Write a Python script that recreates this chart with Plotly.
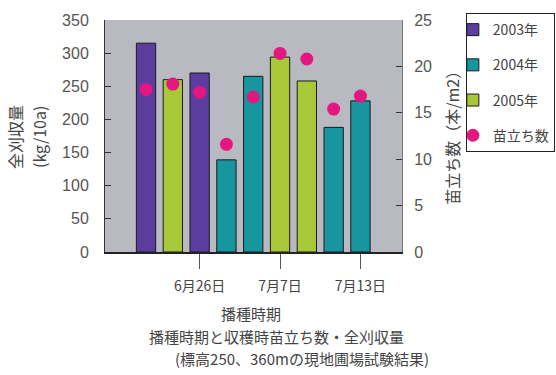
import plotly.graph_objects as go

# ---- data ----
slot_pos = [1, 2, 3, 4, 5, 6, 7, 8, 9]
tick_pos = [3, 6, 9]
tick_labels = ["6月26日", "7月7日", "7月13日"]

x_2003 = [1, 3]
y_2003 = [315, 270]
x_2004 = [4, 5, 8, 9]
y_2004 = [139, 265, 188, 228]
x_2005 = [2, 6, 7]
y_2005 = [260, 294, 258]
stand_counts = [17.5, 18.1, 17.2, 11.6, 16.7, 21.4, 20.8, 15.4, 16.8]

C03 = "#5a3d9e"
C04 = "#17969f"
C05 = "#a8c83a"
CDOT = "#e4167f"
FONT = "Noto Sans CJK JP"
TXT = "#444444"

fig = go.Figure()
bar_line = dict(color="#1a1a1a", width=1)
fig.add_trace(go.Bar(x=x_2003, y=y_2003, name="2003年", marker=dict(color=C03, line=bar_line),
                     width=0.72, legendgroup="a"))
fig.add_trace(go.Bar(x=x_2004, y=y_2004, name="2004年", marker=dict(color=C04, line=bar_line),
                     width=0.72, legendgroup="b"))
fig.add_trace(go.Bar(x=x_2005, y=y_2005, name="2005年", marker=dict(color=C05, line=bar_line),
                     width=0.72, legendgroup="c"))
fig.add_trace(go.Scatter(x=slot_pos, y=stand_counts, name="苗立ち数", mode="markers",
                         marker=dict(color=CDOT, size=13), yaxis="y2", legendgroup="d"))

fig.update_layout(
    width=556, height=375,
    margin=dict(l=105, r=154, t=20, b=123, autoexpand=False),
    paper_bgcolor="white",
    plot_bgcolor="#b9b9c1",
    barmode="overlay",
    font=dict(family=FONT, color=TXT),
    showlegend=True,
    legend=dict(x=1.215, y=1.03, xanchor="left", yanchor="top",
                bgcolor="white", bordercolor="#222", borderwidth=1,
                font=dict(size=14, color=TXT), itemwidth=30, indentation=-14,
                tracegroupgap=14, traceorder="grouped"),
    xaxis=dict(range=[-0.53, 10.55], tickvals=tick_pos, ticktext=tick_labels,
               ticks="outside", ticklen=15, tickcolor="#555", tickwidth=1,
               showline=True, linecolor="#222", linewidth=2,
               showgrid=False, zeroline=False, ticklabelstandoff=5,
               tickfont=dict(size=14, color=TXT, family=FONT)),
    yaxis=dict(range=[0, 350], dtick=50, ticks="inside", ticklen=6, tickcolor="#333",
               showline=True, linecolor="#333", linewidth=1,
               showgrid=False, zeroline=False, ticklabelstandoff=12,
               tickfont=dict(size=16, color="#555", family="Liberation Sans")),
    yaxis2=dict(range=[0, 25], dtick=5, overlaying="y", side="right",
                ticks="inside", ticklen=6, tickcolor="#333",
                showline=True, linecolor="#777", linewidth=1,
                showgrid=False, zeroline=False, ticklabelstandoff=8,
                tickfont=dict(size=16, color="#555", family="Liberation Sans")),
)

ann = [
    dict(text="播種時期", x=0.49, y=-0.263, size=15),
    dict(text="播種時期と収穫時苗立ち数・全刈収量", x=0.579, y=-0.366, size=15),
    dict(text="(標高250、360mの現地圃場試験結果)", x=0.663, y=-0.457, size=15),
]
for a in ann:
    fig.add_annotation(text=a["text"], x=a["x"], y=a["y"], xref="paper", yref="paper",
                       xanchor="center", yanchor="middle", showarrow=False,
                       font=dict(size=a["size"], color=TXT, family=FONT))

fig.add_annotation(text="全刈収量", x=-0.303, y=0.496, xref="paper", yref="paper",
                   textangle=-90, showarrow=False, xanchor="center", yanchor="middle",
                   font=dict(size=16, color=TXT, family=FONT))
fig.add_annotation(text="(kg/10a)", x=-0.222, y=0.496, xref="paper", yref="paper",
                   textangle=-90, showarrow=False, xanchor="center", yanchor="middle",
                   font=dict(size=16, color=TXT, family=FONT))
fig.add_annotation(text="苗立ち数（本/m2）", x=1.168, y=0.509, xref="paper", yref="paper",
                   textangle=-90, showarrow=False, xanchor="center", yanchor="middle",
                   font=dict(size=16, color=TXT, family=FONT))

fig.write_html("out.html")
